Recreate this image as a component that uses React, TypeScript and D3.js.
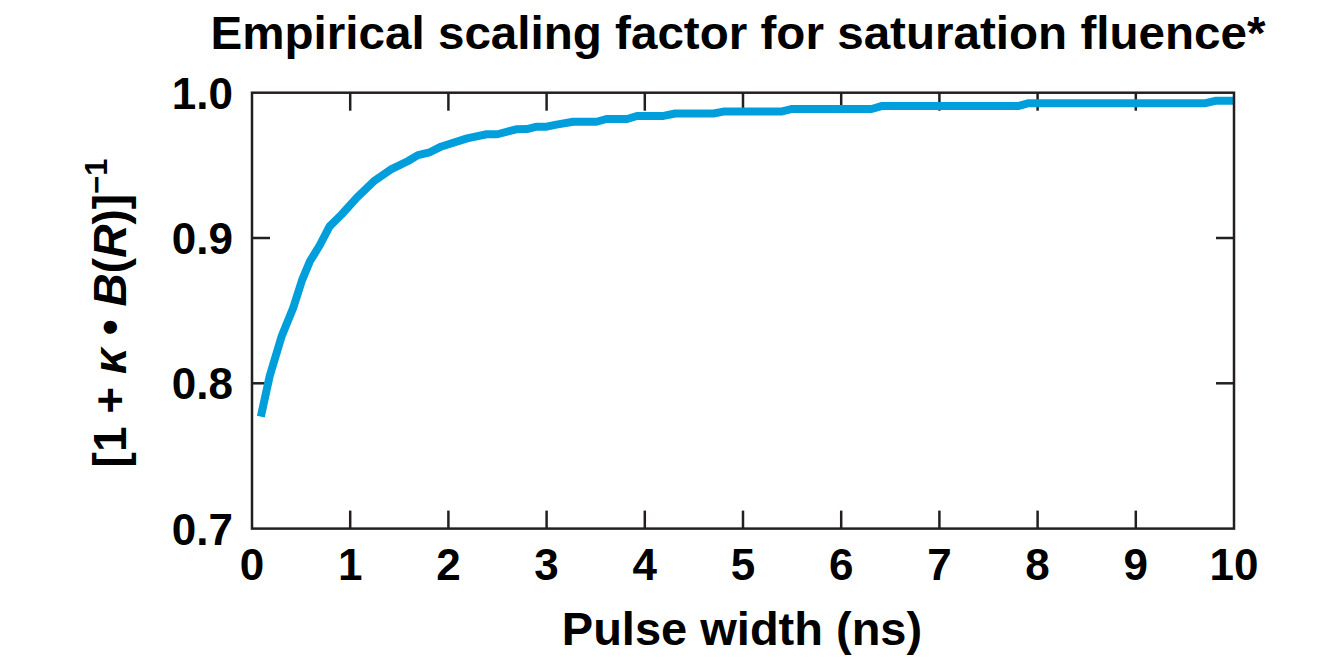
import React from "react";
import * as d3 from "d3";

const pulseWidth = [0.09, 0.18, 0.30, 0.42, 0.51, 0.59, 0.69, 0.79, 0.91, 1.07, 1.24, 1.41, 1.59, 1.69, 1.81, 1.93, 2.19, 2.39, 2.50, 2.69, 2.80, 2.90, 3.00, 3.10, 3.27, 3.51, 3.61, 3.82, 3.92, 4.19, 4.31, 4.70, 4.80, 5.39, 5.50, 6.31, 6.41, 7.80, 7.91, 9.71, 9.82, 10.0];
const scalingFactor = [0.777, 0.805, 0.832, 0.852, 0.871, 0.884, 0.895, 0.908, 0.916, 0.928, 0.939, 0.947, 0.953, 0.957, 0.959, 0.963, 0.9686, 0.9714, 0.9714, 0.9748, 0.975, 0.9766, 0.9766, 0.978, 0.980, 0.980, 0.9819, 0.9819, 0.984, 0.984, 0.9857, 0.9857, 0.987, 0.987, 0.9888, 0.9888, 0.9908, 0.9908, 0.9928, 0.9928, 0.9945, 0.9945];
const xTicks = [0, 1, 2, 3, 4, 5, 6, 7, 8, 9, 10];
const yTicks = [0.7, 0.8, 0.9, 1.0];

const W = 1341, H = 664;
const M = { left: 252, right: 1234, top: 92.7, bottom: 528.6 };
const FONT = "'Liberation Sans', Arial, Helvetica, sans-serif";
const AXIS = "#231F20";
const LINE = "#009FDB";

export default function App() {
  const x = d3.scaleLinear().domain([0, 10]).range([M.left, M.right]);
  const y = d3.scaleLinear().domain([0.7, 1.0]).range([M.bottom, M.top]);
  const pts = pulseWidth.map((p, i) => [p, scalingFactor[i]] as [number, number]);
  const line = d3.line<[number, number]>().x(d => x(d[0])).y(d => y(d[1]));
  const tl = 18;
  return (
    <svg width={W} height={H} style={{ position: "absolute", left: 0, top: 0, background: "#fff" }} fontFamily={FONT}>
      <text x={738} y={49} textAnchor="middle" fontSize={46} fontWeight="bold" fill="#000" textLength={1055} lengthAdjust="spacingAndGlyphs">
        Empirical scaling factor for saturation fluence*
      </text>
      <g stroke={AXIS} strokeWidth={2.5}>
        {xTicks.slice(1, -1).map(t => (
          <g key={"x" + t}>
            <line x1={x(t)} x2={x(t)} y1={M.bottom} y2={M.bottom - tl} />
            <line x1={x(t)} x2={x(t)} y1={M.top} y2={M.top + tl} />
          </g>
        ))}
        {yTicks.slice(1, -1).map(t => (
          <g key={"y" + t}>
            <line x1={M.left} x2={M.left + tl} y1={y(t)} y2={y(t)} />
            <line x1={M.right} x2={M.right - tl} y1={y(t)} y2={y(t)} />
          </g>
        ))}
      </g>
      <path d={line(pts) || ""} fill="none" stroke={LINE} strokeWidth={8} strokeLinejoin="round" />
      <rect x={M.left} y={M.top} width={M.right - M.left} height={M.bottom - M.top} fill="none" stroke={AXIS} strokeWidth={2.5} />
      {xTicks.map(t => (
        <text key={"xl" + t} x={x(t)} y={580} textAnchor="middle" fontSize={44} fontWeight="bold" fill="#000">{t}</text>
      ))}
      {yTicks.map(t => (
        <text key={"yl" + t} x={233} y={y(t) + 16} textAnchor="end" fontSize={44} fontWeight="bold" fill="#000">{t.toFixed(1)}</text>
      ))}
      <text x={742} y={645} textAnchor="middle" fontSize={47} fontWeight="bold" fill="#000">Pulse width (ns)</text>
      <text transform="translate(126,313) rotate(-90)" textAnchor="middle" fontSize={46} fontWeight="bold" fill="#000">
        <tspan>[1 + </tspan>
        <tspan fontStyle="italic">κ</tspan>
        <tspan> • </tspan>
        <tspan fontStyle="italic">B</tspan>
        <tspan>(</tspan>
        <tspan fontStyle="italic">R</tspan>
        <tspan>)]</tspan>
        <tspan fontSize={31} dy={-19}>−1</tspan>
      </text>
    </svg>
  );
}
